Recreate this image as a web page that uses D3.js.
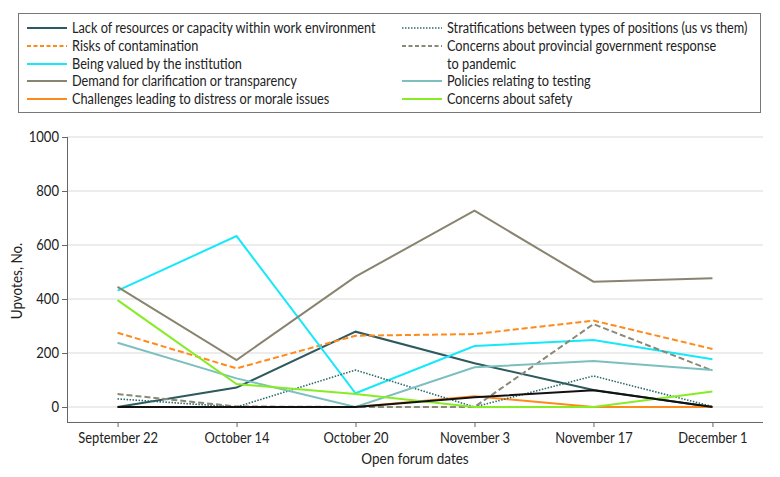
<!DOCTYPE html>
<html>
<head>
<meta charset="utf-8">
<script src="https://cdn.jsdelivr.net/npm/d3@7"></script>
<style>
  body { margin: 0; background: #fff; }
  svg text { font-family: Lato, "Open Sans", sans-serif; fill: #222; }
</style>
</head>
<body>
<div id="chart"></div>
<script>
"use strict";
// forum dates on the x axis
var dates = ["September 22", "October 14", "October 20", "November 3", "November 17", "December 1"];
var yTicks = [0, 200, 400, 600, 800, 1000];

// upvotes per theme
var lackResources = [0, 72, 279, 162, 63, 0];
var risksContamination = [275, 143, 264, 270, 320, 215];
var beingValued = [431, 633, 51, 226, 248, 177];
var demandClarification = [445, 174, 483, 727, 464, 477];
var challengesDistress = [0, 0, 0, 40, 0, 0];
var stratifications = [30, 0, 137, 0, 115, 2];
var provincialResponse = [48, 2, 0, 0, 307, 135];
var policiesTesting = [238, 106, 0, 147, 170, 137];
var concernsSafety = [396, 85, 48, 0, 0, 57];
var unlabeled = [0, 0, 0, 36, 62, 0];

var series = [
  { name: "Lack of resources or capacity within work environment", values: lackResources, color: "#2d5a5c", dash: null, col: 0, row: 0 },
  { name: "Risks of contamination", values: risksContamination, color: "#ff8a1c", dash: "6,3", col: 0, row: 1 },
  { name: "Being valued by the institution", values: beingValued, color: "#14e8fa", dash: null, col: 0, row: 2 },
  { name: "Demand for clarification or transparency", values: demandClarification, color: "#88846f", dash: null, col: 0, row: 3 },
  { name: "Challenges leading to distress or morale issues", values: challengesDistress, color: "#ff8a1c", dash: null, col: 0, row: 4 },
  { name: "Stratifications between types of positions (us vs them)", values: stratifications, color: "#2e6a6b", dash: "1.5,1.5", col: 1, row: 0 },
  { name: ["Concerns about provincial government response", "to pandemic"], values: provincialResponse, color: "#8a8876", dash: "6,3", col: 1, row: 1 },
  { name: "Policies relating to testing", values: policiesTesting, color: "#7dbfbf", dash: null, col: 1, row: 3 },
  { name: "Concerns about safety", values: concernsSafety, color: "#86ec24", dash: null, col: 1, row: 4 },
  { name: null, values: unlabeled, color: "#111", dash: null }
];

var w = 780, h = 477;
var svg = d3.select("#chart").append("svg").attr("width", w).attr("height", h);

var x = d3.scalePoint().domain(dates).range([67, 763]).padding(0.425);
var y = d3.scaleLinear().domain([0, 1000]).range([407, 137]);
var axisY = 422;

//the original font is a narrow one, squeeze glyphs to match
function condense(sel, k) {
  sel.each(function() {
    var n = this.getComputedTextLength();
    d3.select(this).attr("textLength", n * k).attr("lengthAdjust", "spacingAndGlyphs");
  });
}

// gridlines
svg.append("g").selectAll("line").data(yTicks).enter().append("line")
  .attr("x1", 67).attr("x2", 763)
  .attr("y1", function(d) { return y(d); }).attr("y2", function(d) { return y(d); })
  .attr("stroke", "#d9d9d9").attr("stroke-width", 1);

// y axis
var gy = svg.append("g").attr("transform", "translate(67,0)")
  .call(d3.axisLeft(y).tickValues(yTicks).tickFormat(d3.format("d")).tickSize(5).tickPadding(3));
gy.select(".domain").remove();
gy.selectAll(".tick line").attr("stroke", "#666");
gy.selectAll(".tick text").style("font-size", "15px").attr("fill", "#222").call(condense, 0.87);
svg.append("line").attr("x1", 67.5).attr("x2", 67.5).attr("y1", y(1000)).attr("y2", axisY)
  .attr("stroke", "#666");

// x axis
var gx = svg.append("g").attr("transform", "translate(0," + axisY + ")")
  .call(d3.axisBottom(x).tickSize(5).tickPadding(5));
gx.select(".domain").remove();
gx.selectAll(".tick line").attr("stroke", "#666");
gx.selectAll(".tick text").style("font-size", "15px").attr("fill", "#222").call(condense, 0.86);
svg.append("line").attr("x1", 67).attr("x2", 763).attr("y1", axisY + 0.5).attr("y2", axisY + 0.5)
  .attr("stroke", "#666");

// axis titles
svg.append("text").attr("x", 415).attr("y", 464).attr("text-anchor", "middle")
  .style("font-size", "15.5px").text("Open forum dates").call(condense, 0.87);
svg.append("text").attr("transform", "translate(22,281) rotate(-90)").attr("text-anchor", "middle")
  .style("font-size", "15.5px").text("Upvotes, No.").call(condense, 0.87);

// lines
var line = d3.line()
  .x(function(d, i) { return x(dates[i]); })
  .y(function(d) { return y(d); });

svg.append("g").selectAll("path").data(series).enter().append("path")
  .attr("d", function(d) { return line(d.values); })
  .attr("fill", "none")
  .attr("stroke", function(d) { return d.color; })
  .attr("stroke-width", function(d) { return d.dash === "1.5,1.5" ? 1.6 : 2; })
  .attr("stroke-dasharray", function(d) { return d.dash; })
  .attr("stroke-linejoin", "miter");

// legend
var legend = svg.append("g");
legend.append("rect").attr("x", 18.5).attr("y", 13.5).attr("width", 742).attr("height", 99)
  .attr("fill", "none").attr("stroke", "#777");

var colX = [27, 402], rowY = [28, 46, 64, 81, 99];
var items = legend.selectAll(".item").data(series.filter(function(d) { return d.name; }))
  .enter().append("g").attr("class", "item")
  .attr("transform", function(d) { return "translate(" + colX[d.col] + "," + rowY[d.row] + ")"; });

items.append("line").attr("x1", 0).attr("x2", 40).attr("y1", 0).attr("y2", 0)
  .attr("stroke", function(d) { return d.color; })
  .attr("stroke-width", function(d) { return d.dash === "1.5,1.5" ? 1.6 : 2.2; })
  .attr("stroke-dasharray", function(d) { return d.dash === "6,3" ? "4,2.5" : d.dash; });

items.each(function(d) {
  var lines = Array.isArray(d.name) ? d.name : [d.name];
  var t = d3.select(this).append("text").attr("y", 5).style("font-size", "14.8px");
  lines.forEach(function(s, i) {
    t.append("tspan").attr("x", 45).attr("dy", i === 0 ? 0 : 18).text(s);
  });
  t.selectAll("tspan").call(condense, 0.86);
});
</script>
</body>
</html>
